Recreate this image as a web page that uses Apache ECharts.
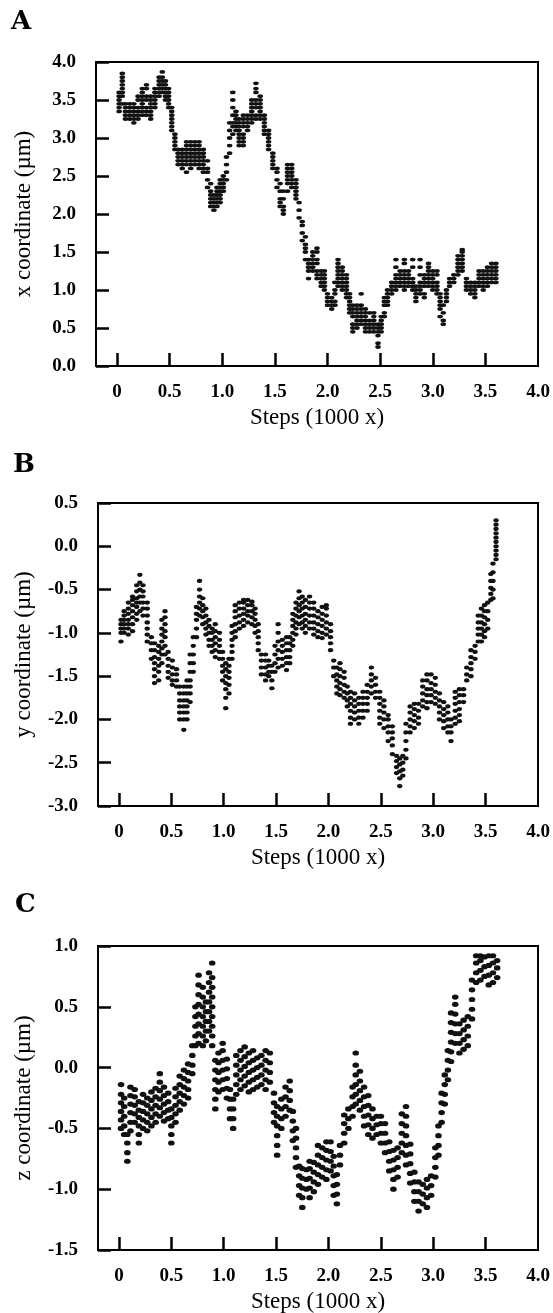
<!DOCTYPE html>
<html>
<head>
<meta charset="utf-8">
<script src="https://cdn.jsdelivr.net/npm/echarts@6/dist/echarts.min.js"></script>
<style>
html,body{margin:0;padding:0;background:#fff;}
#chart{width:553px;height:1313px;}
</style>
</head>
<body>
<div id="chart"></div>
<script>
// ---- data ----
var panelLetters = ['A', 'B', 'C'];
var yNames = ['x coordinate (\u00b5m)', 'y coordinate (\u00b5m)', 'z coordinate (\u00b5m)'];
var xName = 'Steps (1000 x)';
var xTickValues = [0, 0.5, 1.0, 1.5, 2.0, 2.5, 3.0, 3.5];
var xLabelValues = [0, 0.5, 1.0, 1.5, 2.0, 2.5, 3.0, 3.5, 4.0];
var yRanges = [[0, 4], [-3, 0.5], [-1.5, 1]];

// each column: [step (1000 x), y values of the dots in that column]
var colsA = [
[0.02,3.35,3.40,3.45,3.50,3.55,3.60],
[0.05,3.45,3.55,3.60,3.65,3.70,3.75,3.80,3.85],
[0.08,3.25,3.30,3.35,3.40,3.45],
[0.12,3.25,3.30,3.35,3.40,3.45],
[0.16,3.20,3.25,3.30,3.35,3.40,3.45],
[0.20,3.25,3.30,3.35,3.40,3.50,3.55],
[0.24,3.30,3.35,3.40,3.45,3.50,3.55,3.60,3.65],
[0.28,3.30,3.35,3.40,3.50,3.55,3.65,3.70],
[0.32,3.25,3.30,3.35,3.40,3.45,3.50,3.55],
[0.36,3.40,3.45,3.50,3.55,3.60,3.65],
[0.40,3.55,3.60,3.65,3.70,3.75,3.80],
[0.43,3.60,3.65,3.70,3.75,3.80,3.87],
[0.46,3.50,3.55,3.60,3.65,3.70,3.75],
[0.49,3.40,3.45,3.50,3.55,3.60,3.65],
[0.52,3.10,3.15,3.20,3.25,3.30,3.35,3.40],
[0.55,2.85,2.90,2.95,3.00,3.05],
[0.58,2.65,2.70,2.75,2.80,2.85],
[0.62,2.60,2.65,2.70,2.75,2.80,2.85],
[0.66,2.55,2.65,2.70,2.75,2.80,2.85,2.90,2.95],
[0.70,2.60,2.65,2.70,2.75,2.80,2.85,2.90,2.95],
[0.74,2.65,2.70,2.75,2.80,2.85,2.90,2.95],
[0.78,2.60,2.65,2.70,2.75,2.80,2.85,2.90,2.95],
[0.82,2.55,2.60,2.65,2.70,2.75,2.80,2.85],
[0.86,2.35,2.45,2.55,2.60,2.70],
[0.89,2.10,2.15,2.20,2.25,2.30,2.40],
[0.92,2.05,2.10,2.15,2.20,2.25],
[0.95,2.10,2.15,2.20,2.25,2.30,2.35],
[0.98,2.15,2.20,2.25,2.30,2.35,2.40,2.45],
[1.01,2.30,2.35,2.40,2.45,2.50],
[1.04,2.45,2.55,2.65,2.75],
[1.07,2.80,2.90,3.00,3.10,3.20],
[1.10,3.05,3.15,3.20,3.30,3.40,3.50,3.60],
[1.13,3.10,3.15,3.20,3.25,3.30,3.35],
[1.16,2.90,2.95,3.00,3.05,3.10,3.15,3.20,3.25],
[1.20,2.90,2.95,3.00,3.05,3.15,3.20,3.25,3.30],
[1.24,3.10,3.15,3.20,3.25,3.30],
[1.28,3.20,3.25,3.30,3.35,3.40,3.45,3.50],
[1.32,3.25,3.30,3.40,3.45,3.50,3.60,3.65,3.72],
[1.36,3.25,3.30,3.35,3.40,3.45,3.50,3.55],
[1.40,3.05,3.10,3.15,3.20,3.25,3.30],
[1.44,2.85,2.90,2.95,3.00,3.05,3.10],
[1.48,2.60,2.65,2.70,2.75,2.80],
[1.52,2.35,2.45,2.55,2.60],
[1.55,2.10,2.15,2.20,2.30,2.40],
[1.58,2.00,2.05,2.10,2.20,2.30],
[1.62,2.30,2.40,2.45,2.50,2.55,2.60,2.65],
[1.66,2.35,2.40,2.45,2.50,2.55,2.60,2.65],
[1.70,2.20,2.25,2.30,2.35,2.40,2.45],
[1.73,1.95,2.05,2.15],
[1.76,1.65,1.75,1.85,1.90],
[1.79,1.40,1.50,1.55,1.60,1.70],
[1.82,1.15,1.25,1.30,1.35,1.40],
[1.86,1.25,1.30,1.35,1.40,1.45,1.50],
[1.90,1.15,1.20,1.25,1.35,1.40,1.50,1.55],
[1.94,1.05,1.10,1.15,1.20,1.25],
[1.97,1.00,1.05,1.10,1.15,1.20,1.25],
[2.00,0.80,0.85,0.90,0.95],
[2.04,0.75,0.80,0.85,0.90],
[2.07,0.80,0.85,0.95,1.00,1.10],
[2.10,1.05,1.10,1.15,1.20,1.25,1.30,1.35,1.40],
[2.14,1.00,1.05,1.10,1.15,1.20,1.25,1.30],
[2.18,0.90,0.95,1.00,1.05,1.10,1.15,1.20],
[2.21,0.70,0.75,0.80,0.85,0.90,0.95],
[2.24,0.45,0.50,0.55,0.65,0.70,0.75,0.80],
[2.28,0.50,0.55,0.60,0.65,0.70,0.75,0.80],
[2.32,0.55,0.60,0.65,0.70,0.75,0.80,0.95],
[2.36,0.45,0.50,0.55,0.60,0.65,0.70,0.75],
[2.40,0.45,0.50,0.55,0.60,0.70],
[2.44,0.45,0.50,0.55,0.60,0.65,0.70],
[2.48,0.25,0.30,0.40,0.45,0.50,0.55],
[2.51,0.45,0.50,0.55,0.60,0.65],
[2.54,0.65,0.70,0.80,0.85,0.90],
[2.57,0.80,0.85,0.90,0.95,1.00],
[2.61,0.95,1.00,1.05,1.10],
[2.65,1.00,1.05,1.10,1.15,1.20,1.30,1.40],
[2.69,1.05,1.10,1.15,1.20,1.25],
[2.73,1.00,1.05,1.10,1.15,1.20,1.25,1.35,1.40],
[2.77,1.05,1.10,1.15,1.20,1.25],
[2.81,1.00,1.05,1.10,1.15,1.30,1.40],
[2.84,0.85,0.90,0.95,1.00,1.05],
[2.88,0.95,1.00,1.05,1.10,1.20,1.30,1.40],
[2.92,0.90,0.95,1.05,1.10,1.15,1.20],
[2.96,1.05,1.10,1.15,1.20,1.25,1.30,1.35],
[3.00,1.00,1.05,1.10,1.15,1.20,1.25],
[3.04,0.95,1.00,1.05,1.10,1.20,1.25],
[3.07,0.65,0.75,0.80,0.85,0.90,0.95],
[3.10,0.55,0.60,0.70,0.80],
[3.13,0.85,0.90,0.95,1.00],
[3.16,1.05,1.10,1.15],
[3.20,1.10,1.15,1.20],
[3.24,1.20,1.25,1.30,1.35,1.40,1.45],
[3.28,1.25,1.30,1.35,1.40,1.45,1.50,1.53],
[3.32,1.00,1.05,1.10,1.15],
[3.36,0.95,1.00,1.05,1.10],
[3.40,0.90,0.95,1.00,1.05,1.10],
[3.44,1.05,1.10,1.15,1.20,1.25],
[3.48,1.00,1.05,1.10,1.15,1.20,1.25],
[3.52,1.05,1.10,1.15,1.20,1.25,1.30],
[3.56,1.10,1.15,1.20,1.25,1.30,1.35],
[3.60,1.10,1.15,1.20,1.25,1.30,1.35]
];

var colsB = [
[0.02,-1.10,-1.00,-0.95,-0.90,-0.85],
[0.05,-1.00,-0.95,-0.90,-0.85,-0.80,-0.75],
[0.09,-1.02,-0.95,-0.90,-0.85,-0.78,-0.72,-0.65],
[0.13,-0.98,-0.90,-0.82,-0.75,-0.68,-0.62,-0.58],
[0.17,-0.85,-0.78,-0.70,-0.65,-0.60,-0.52,-0.45],
[0.20,-0.75,-0.65,-0.58,-0.50,-0.42,-0.33],
[0.23,-0.80,-0.72,-0.65,-0.58,-0.52,-0.45],
[0.27,-1.10,-1.02,-0.95,-0.88,-0.80,-0.72,-0.65],
[0.31,-1.30,-1.20,-1.12,-1.05],
[0.34,-1.58,-1.50,-1.42,-1.35,-1.28,-1.20,-1.12],
[0.38,-1.55,-1.45,-1.38,-1.30,-1.22,-1.15],
[0.41,-1.35,-1.25,-1.18,-1.10,-1.02,-0.95,-0.85],
[0.44,-1.25,-1.15,-1.05,-0.98,-0.90,-0.82,-0.75],
[0.47,-1.52,-1.45,-1.38,-1.30,-1.22],
[0.51,-1.60,-1.55,-1.48,-1.40,-1.32],
[0.55,-1.62,-1.55,-1.48,-1.42],
[0.58,-2.00,-1.92,-1.85,-1.78,-1.70,-1.62],
[0.62,-2.12,-2.00,-1.92,-1.85,-1.78,-1.70,-1.62],
[0.65,-2.00,-1.92,-1.85,-1.78,-1.70,-1.62,-1.55],
[0.68,-1.80,-1.70,-1.62,-1.55,-1.45,-1.35,-1.25],
[0.71,-1.45,-1.35,-1.25,-1.15,-1.05],
[0.74,-1.05,-0.95,-0.85,-0.78,-0.70],
[0.77,-0.80,-0.72,-0.65,-0.58,-0.50,-0.40],
[0.80,-0.90,-0.82,-0.75,-0.68,-0.60],
[0.83,-1.02,-0.95,-0.88,-0.80,-0.72],
[0.86,-1.15,-1.08,-1.00,-0.92,-0.85],
[0.89,-1.22,-1.15,-1.08,-1.00,-0.95],
[0.92,-1.28,-1.20,-1.12,-1.05,-0.98,-0.90],
[0.96,-1.30,-1.22,-1.15,-1.08,-1.00],
[0.99,-1.55,-1.45,-1.38,-1.30,-1.22],
[1.02,-1.87,-1.75,-1.65,-1.58,-1.50,-1.42,-1.35],
[1.05,-1.70,-1.60,-1.52,-1.45,-1.38,-1.30],
[1.08,-1.30,-1.22,-1.15,-1.08,-1.00,-0.92],
[1.11,-1.05,-0.98,-0.90,-0.82,-0.75,-0.68],
[1.15,-0.95,-0.88,-0.80,-0.72,-0.65],
[1.19,-0.92,-0.85,-0.78,-0.72,-0.65,-0.62],
[1.23,-0.88,-0.80,-0.75,-0.68,-0.62],
[1.27,-0.90,-0.82,-0.75,-0.68,-0.64],
[1.30,-1.00,-0.92,-0.85,-0.78,-0.72],
[1.33,-1.20,-1.12,-1.05,-0.98,-0.90],
[1.36,-1.48,-1.40,-1.32,-1.25],
[1.40,-1.55,-1.48,-1.40,-1.32,-1.25],
[1.43,-1.50,-1.45,-1.38,-1.32],
[1.46,-1.64,-1.55,-1.45,-1.38],
[1.49,-1.45,-1.35,-1.25,-1.15],
[1.52,-1.40,-1.30,-1.20,-1.10,-1.00,-0.90],
[1.56,-1.38,-1.30,-1.22,-1.15,-1.08],
[1.60,-1.43,-1.35,-1.28,-1.20,-1.12,-1.05],
[1.63,-1.35,-1.28,-1.20,-1.12,-1.05],
[1.66,-1.15,-1.08,-1.00,-0.92,-0.85,-0.78],
[1.69,-1.02,-0.95,-0.88,-0.80,-0.72,-0.65],
[1.72,-0.90,-0.82,-0.75,-0.68,-0.60,-0.52],
[1.75,-0.95,-0.88,-0.80,-0.72,-0.65,-0.58],
[1.78,-1.00,-0.92,-0.85,-0.78,-0.70,-0.62],
[1.82,-0.95,-0.88,-0.80,-0.72,-0.65,-0.58],
[1.86,-1.02,-0.95,-0.88,-0.80,-0.72,-0.65],
[1.90,-1.05,-0.98,-0.90,-0.82,-0.75],
[1.94,-1.06,-1.00,-0.92,-0.85,-0.78,-0.70],
[1.98,-1.02,-0.95,-0.88,-0.80,-0.72,-0.68],
[2.02,-1.20,-1.12,-1.05,-0.98,-0.90],
[2.05,-1.50,-1.40,-1.32],
[2.08,-1.70,-1.62,-1.55,-1.48,-1.40],
[2.11,-1.72,-1.65,-1.58,-1.50,-1.42,-1.35],
[2.15,-1.75,-1.68,-1.60,-1.52,-1.45],
[2.18,-1.85,-1.78,-1.70,-1.62],
[2.21,-2.05,-1.98,-1.90,-1.82,-1.75,-1.68],
[2.25,-2.00,-1.92,-1.85,-1.78,-1.70],
[2.29,-2.05,-1.98,-1.90,-1.82,-1.75],
[2.33,-1.98,-1.90,-1.82,-1.75,-1.68],
[2.37,-1.90,-1.82,-1.75,-1.68,-1.60],
[2.41,-1.70,-1.62,-1.55,-1.48,-1.40],
[2.45,-1.75,-1.68,-1.60,-1.52],
[2.49,-2.05,-1.98,-1.90,-1.82,-1.75,-1.68],
[2.53,-2.10,-2.00,-1.92,-1.85,-1.78],
[2.57,-2.25,-2.15,-2.08,-2.00,-1.95],
[2.61,-2.40,-2.30,-2.22,-2.15,-2.08],
[2.65,-2.62,-2.55,-2.48,-2.42],
[2.68,-2.77,-2.68,-2.60,-2.52,-2.45],
[2.71,-2.65,-2.58,-2.50,-2.42],
[2.74,-2.45,-2.35,-2.25,-2.15,-2.05],
[2.78,-2.15,-2.08,-2.00,-1.92,-1.85],
[2.82,-2.10,-2.02,-1.95,-1.88,-1.82],
[2.86,-2.05,-1.98,-1.90,-1.82],
[2.90,-1.85,-1.78,-1.70,-1.62,-1.55],
[2.94,-1.87,-1.80,-1.72,-1.65,-1.55,-1.48],
[2.98,-1.80,-1.72,-1.65,-1.58,-1.48],
[3.02,-1.82,-1.75,-1.68,-1.60,-1.52],
[3.06,-2.00,-1.92,-1.85,-1.78,-1.70],
[3.10,-2.10,-2.02,-1.95,-1.88,-1.80],
[3.14,-2.15,-2.08,-2.00,-1.92,-1.85],
[3.17,-2.25,-2.15,-2.08,-2.00],
[3.21,-2.05,-1.98,-1.90,-1.82,-1.75,-1.68],
[3.25,-2.02,-1.95,-1.88,-1.80,-1.72,-1.65],
[3.29,-1.80,-1.72,-1.65],
[3.32,-1.55,-1.48,-1.40],
[3.36,-1.50,-1.42,-1.35,-1.28,-1.20],
[3.40,-1.30,-1.22,-1.15],
[3.43,-1.10,-1.02,-0.95,-0.88,-0.80],
[3.46,-1.10,-1.02,-0.95,-0.88,-0.80,-0.72],
[3.49,-1.05,-0.98,-0.90,-0.82,-0.75,-0.68],
[3.52,-0.95,-0.85,-0.75,-0.65],
[3.55,-0.62,-0.55,-0.48,-0.40,-0.32],
[3.57,-0.60,-0.50,-0.40,-0.30,-0.20],
[3.60,-0.15,-0.10,-0.05,0.00,0.05,0.10,0.15,0.20,0.25,0.30]
];

var colsC = [
[0.02,-0.50,-0.43,-0.36,-0.29,-0.22,-0.14],
[0.05,-0.55,-0.48,-0.40,-0.32,-0.25],
[0.08,-0.77,-0.70,-0.62,-0.55],
[0.11,-0.52,-0.45,-0.37,-0.30,-0.23,-0.16],
[0.15,-0.45,-0.38,-0.31,-0.24,-0.18],
[0.19,-0.62,-0.55,-0.48,-0.41,-0.35,-0.28],
[0.23,-0.50,-0.43,-0.36,-0.29,-0.22],
[0.27,-0.52,-0.45,-0.38,-0.31,-0.25],
[0.31,-0.48,-0.41,-0.34,-0.27,-0.20],
[0.35,-0.45,-0.38,-0.31,-0.24,-0.17],
[0.39,-0.40,-0.33,-0.26,-0.19,-0.12,-0.05],
[0.43,-0.44,-0.37,-0.30,-0.23,-0.16],
[0.47,-0.42,-0.35,-0.28,-0.21],
[0.50,-0.62,-0.55,-0.48,-0.41,-0.34],
[0.54,-0.45,-0.38,-0.31,-0.24,-0.17],
[0.58,-0.35,-0.28,-0.21,-0.14,-0.07],
[0.62,-0.30,-0.23,-0.16,-0.09,-0.02],
[0.66,-0.25,-0.18,-0.11,-0.04,0.03],
[0.70,-0.05,0.02,0.10,0.18],
[0.73,0.18,0.26,0.34,0.42,0.50],
[0.76,0.20,0.28,0.36,0.44,0.52,0.60,0.68,0.76],
[0.80,0.18,0.26,0.34,0.42,0.50,0.58,0.66],
[0.83,0.22,0.30,0.38,0.46,0.54],
[0.86,0.30,0.38,0.46,0.54,0.62,0.70,0.78],
[0.89,0.18,0.26,0.34,0.42,0.50,0.58,0.66,0.74,0.86],
[0.92,-0.34,-0.26,-0.18,-0.10,-0.02,0.06],
[0.95,-0.20,-0.12,-0.04,0.04,0.12],
[0.99,-0.18,-0.10,-0.02,0.06,0.14,0.20],
[1.03,-0.25,-0.17,-0.09,-0.01,0.07],
[1.06,-0.42,-0.34,-0.26,-0.18],
[1.09,-0.50,-0.42,-0.34,-0.26],
[1.12,-0.22,-0.14,-0.06,0.02,0.10],
[1.16,-0.18,-0.10,-0.02,0.06,0.14],
[1.20,-0.15,-0.07,0.01,0.09,0.17],
[1.24,-0.20,-0.12,-0.04,0.04,0.12],
[1.28,-0.18,-0.10,-0.02,0.06,0.14],
[1.32,-0.16,-0.08,0.00,0.08],
[1.36,-0.14,-0.06,0.02,0.10],
[1.40,-0.18,-0.10,-0.02,0.06,0.14],
[1.44,-0.12,-0.04,0.04,0.12],
[1.48,-0.45,-0.37,-0.29,-0.21],
[1.51,-0.72,-0.64,-0.56,-0.48,-0.40,-0.32],
[1.55,-0.50,-0.42,-0.34,-0.26],
[1.59,-0.40,-0.32,-0.24,-0.16],
[1.63,-0.35,-0.27,-0.19,-0.11],
[1.66,-0.60,-0.52,-0.44,-0.36],
[1.69,-0.82,-0.74,-0.66,-0.58,-0.50],
[1.72,-1.05,-0.97,-0.89,-0.81],
[1.75,-1.15,-1.07,-0.99,-0.91,-0.83],
[1.79,-1.00,-0.92,-0.84],
[1.82,-1.07,-0.99,-0.91,-0.83,-0.77],
[1.86,-1.02,-0.94,-0.86,-0.78],
[1.90,-0.96,-0.88,-0.80,-0.72,-0.64],
[1.94,-0.90,-0.82,-0.74,-0.66],
[1.98,-0.92,-0.84,-0.76,-0.68,-0.61],
[2.02,-0.85,-0.77,-0.69,-0.61],
[2.05,-1.05,-0.97,-0.89,-0.81,-0.73],
[2.08,-1.12,-1.04,-0.96,-0.88],
[2.11,-0.80,-0.72,-0.64],
[2.15,-0.62,-0.54,-0.46,-0.39],
[2.19,-0.50,-0.42,-0.34],
[2.23,-0.40,-0.32,-0.24,-0.16],
[2.26,-0.30,-0.22,-0.14,-0.06,0.02,0.12],
[2.30,-0.35,-0.27,-0.19,-0.11,-0.03],
[2.34,-0.48,-0.40,-0.32,-0.24,-0.16],
[2.38,-0.55,-0.47,-0.39,-0.31,-0.23],
[2.42,-0.58,-0.50,-0.42,-0.34],
[2.46,-0.55,-0.47,-0.40],
[2.50,-0.62,-0.54,-0.46,-0.40],
[2.54,-0.70,-0.62,-0.54,-0.46],
[2.58,-0.85,-0.77,-0.69,-0.61],
[2.62,-1.00,-0.92,-0.84,-0.76,-0.68],
[2.66,-0.90,-0.82,-0.74,-0.66],
[2.70,-0.70,-0.62,-0.54,-0.46,-0.38],
[2.74,-0.80,-0.72,-0.64,-0.56,-0.48,-0.40,-0.32],
[2.78,-0.95,-0.87,-0.79,-0.71,-0.63],
[2.82,-1.10,-1.02,-0.94,-0.86],
[2.86,-1.18,-1.10,-1.02,-0.94],
[2.90,-1.12,-1.04,-0.96],
[2.94,-1.15,-1.07,-0.99,-0.92],
[2.98,-1.05,-0.97,-0.89],
[3.02,-0.90,-0.82,-0.74,-0.66],
[3.05,-0.72,-0.64,-0.56,-0.48],
[3.08,-0.45,-0.37,-0.29,-0.21],
[3.11,-0.30,-0.22,-0.14,-0.06],
[3.14,-0.10,-0.02,0.06,0.14],
[3.17,0.05,0.13,0.21,0.29,0.37,0.45],
[3.21,0.20,0.28,0.36,0.44,0.52,0.58],
[3.25,0.12,0.20,0.28,0.36],
[3.29,0.15,0.23,0.31,0.39],
[3.33,0.18,0.26,0.34,0.42],
[3.37,0.40,0.48,0.56,0.64,0.72],
[3.41,0.70,0.78,0.86,0.92],
[3.45,0.72,0.80,0.88,0.92],
[3.49,0.75,0.83,0.91],
[3.53,0.68,0.76,0.84,0.92],
[3.57,0.70,0.78,0.86,0.92],
[3.61,0.74,0.82,0.88]
];

// ---- build ----
function toPoints(cols) {
  var pts = [];
  cols.forEach(function (c) {
    for (var i = 1; i < c.length; i++) pts.push([c[0], c[i]]);
  });
  return pts;
}
var allCols = [colsA, colsB, colsC];
var grids = [
  {left: 96, right: 15, top: 62, height: 304},
  {left: 98, right: 15, top: 503, height: 303},
  {left: 98, right: 15, top: 946, height: 304}
];
var letterPos = [[23, 24], [25, 467], [27, 907]];
var dotSize = [[5.6, 3.8], [5.4, 4.2], [6.6, 5.2]];
var serif = '"Liberation Serif", "Times New Roman", serif';
var axisLineStyle = {color: '#000', width: 2};
var tickStyle = {color: '#000', width: 2.5};

var option = {
  backgroundColor: '#fff',
  animation: false,
  grid: grids.map(function (g) {
    return Object.assign({show: true, borderColor: '#000', borderWidth: 2, outerBoundsMode: 'none'}, g);
  }),
  xAxis: grids.map(function (g, i) {
    return {
      type: 'value', gridIndex: i, min: -0.2, max: 4.0,
      axisLine: {show: true, onZero: false, lineStyle: axisLineStyle},
      splitLine: {show: false},
      axisTick: {show: true, inside: true, length: 13, customValues: xTickValues, lineStyle: tickStyle},
      axisLabel: {customValues: xLabelValues, margin: 17, color: '#000',
        fontFamily: serif, fontWeight: 'bold', fontSize: 19,
        formatter: function (v) { return v === 0 ? '0' : v.toFixed(1); }},
      name: xName, nameLocation: 'middle', nameGap: 40,
      nameTextStyle: {fontFamily: serif, fontSize: 23, color: '#000'}
    };
  }),
  yAxis: grids.map(function (g, i) {
    return {
      type: 'value', gridIndex: i, min: yRanges[i][0], max: yRanges[i][1], interval: 0.5,
      axisLine: {show: true, onZero: false, lineStyle: axisLineStyle},
      splitLine: {show: false},
      axisTick: {show: true, inside: true, length: 13, lineStyle: tickStyle},
      axisLabel: {margin: 20, color: '#000', fontFamily: serif, fontWeight: 'bold', fontSize: 19,
        formatter: function (v) { return v.toFixed(1); }},
      name: yNames[i], nameLocation: 'middle', nameGap: g.left - 35,
      nameTextStyle: {fontFamily: serif, fontSize: 23, color: '#000'}
    };
  }),
  series: allCols.map(function (cols, i) {
    return {
      type: 'scatter', xAxisIndex: i, yAxisIndex: i,
      data: toPoints(cols),
      symbol: 'circle', symbolSize: dotSize[i],
      itemStyle: {color: '#111', opacity: 1},
      silent: true
    };
  }),
  graphic: panelLetters.map(function (t, i) {
    return {
      type: 'text', left: letterPos[i][0] - 12, top: letterPos[i][1] - 15,
      style: {text: t, font: 'bold 26px "DejaVu Serif", serif', fill: '#000'}
    };
  })
};

var chart = echarts.init(document.getElementById('chart'), null, {renderer: 'canvas'});
chart.setOption(option);
</script>
</body>
</html>
